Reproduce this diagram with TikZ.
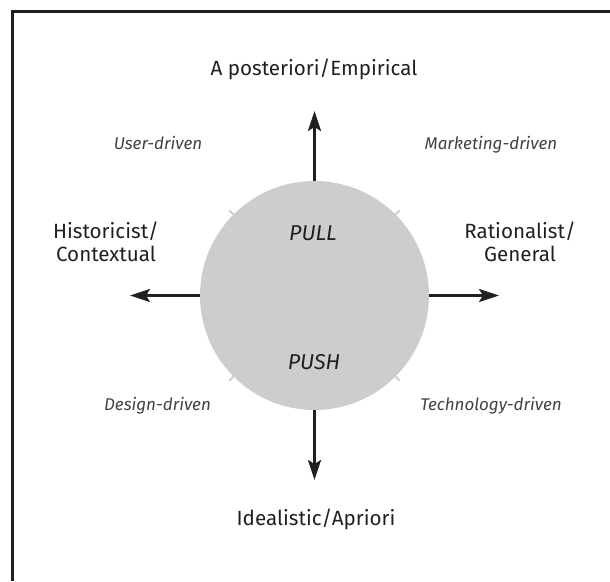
\documentclass[tikz,border=0pt]{standalone}
\usepackage{fontspec}
\setmainfont{Fira Sans}
\usetikzlibrary{arrows.meta,positioning}
\newcommand*\balldiam{229pt}
\newcommand*\armlen  {70pt}
\definecolor{ink}{RGB}{35,31,32}
\definecolor{ballgray}{RGB}{205,205,207}
\tikzset{
    ball/.style   = {circle,fill=ballgray,
                    minimum size=\balldiam, inner sep=0pt, outer sep=0pt},
    pole/.style   = {font=\fontsize{20.6}{23.4}\selectfont, align=center, text=ink, anchor=base},
    drive/.style  = {font=\fontsize{17}{19}\selectfont\itshape, text=ink!85, anchor=base},
    force/.style  = {font=\fontsize{21.5}{25}\selectfont\itshape, text=ink, anchor=base},
    axis/.style   = {draw=ink, line width=2.5pt,
                    -{Stealth[length=20pt,width=13pt,inset=4pt]}},
    nub/.style    = {draw=ballgray, line width=2pt},
    frame/.style  = {draw=ink, line width=3pt},
  }
\begin{document}
\begin{tikzpicture}[x=1pt,y=-1pt]
      \useasboundingbox (0,0) rectangle (610,581);
      % open frame: top and left edges only
      \draw[frame] (12,581) -- (12,11) -- (610,11);

      % the ball
      \node (ball) [ball] at (314.5,295.5) {};
      \foreach \a in {45,135,225,315} {
        \draw[nub] (ball.\a) ++(\a:-2pt) -- ++(\a:8pt);
      }
      \node (pull) [force] at (313,240) {PULL};
      \node (push) [force] at (314,369) {PUSH};

      % arrow ends, one arm length away from the ball
      \coordinate[above=\armlen of ball] (upEnd);
      \coordinate[below=\armlen of ball] (downEnd);
      \coordinate[left=\armlen of ball]  (leftEnd);
      \coordinate[right=\armlen of ball] (rightEnd);
      \foreach \e in {upEnd,downEnd,leftEnd,rightEnd} {
        \draw[axis] (ball) -- (\e);
      }

      % pole labels (base anchor sits on the last line)
      \node (post)  [pole] at (314,75)    {A posteriori/Empirical};
      \node (ideal) [pole] at (316,525)   {Idealistic/Apriori};
      \node (hist)  [pole] at (106,261.7) {Historicist/\\Contextual};
      \node (ratio) [pole] at (520,261.7) {Rationalist/\\General};

      % quadrant labels
      \node (user)   [drive] at (158,149)   {User-driven};
      \node (market) [drive] at (491,149)   {Marketing-driven};
      \node (design) [drive] at (157.5,410) {Design-driven};
      \node (tech)   [drive] at (491,410)   {Technology-driven};
    \end{tikzpicture}
\end{document}
